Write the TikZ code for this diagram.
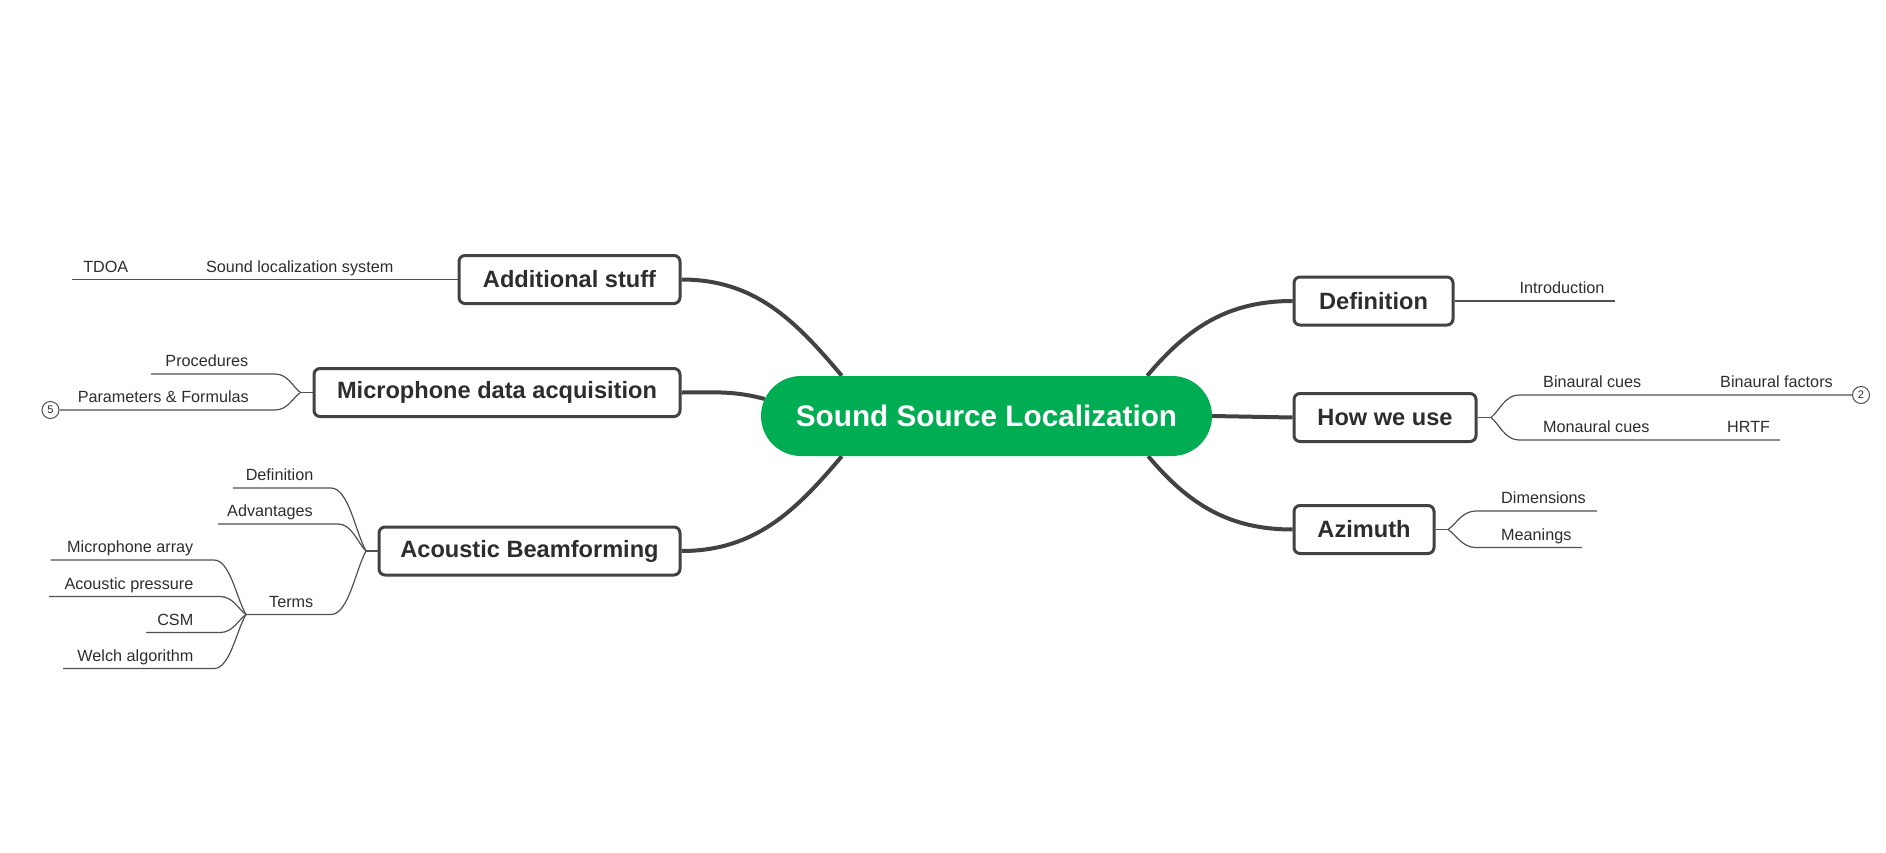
\documentclass[tikz,border=0pt]{standalone}
\usepackage{fontspec}
\setmainfont{Liberation Sans}
\usetikzlibrary{calc,backgrounds}
\definecolor{ssgreen}{RGB}{0,173,83}
\definecolor{edgecol}{RGB}{66,66,66}
\definecolor{twigcol}{RGB}{80,80,80}
\definecolor{txtcol}{RGB}{45,45,45}
\begin{document}
\begin{tikzpicture}[x=1pt,y=1pt,
  hubbox/.style={fill=ssgreen, rounded corners=40pt, minimum width=451pt, minimum height=80pt, inner sep=0pt, text=white, font=\fontsize{29.7}{35}\selectfont\bfseries},
  mainbox/.style={draw=edgecol, line width=3pt, fill=white, rounded corners=6pt, minimum height=48pt, inner sep=0pt, text=txtcol, font=\fontsize{23.6}{28}\selectfont\bfseries},
  sub/.style={inner sep=0pt, text=txtcol, font=\fontsize{16.2}{19}\selectfont},
  trunk/.style={draw=edgecol, line width=4pt},
  twig/.style={draw=twigcol, line width=1.2pt},
  fork/.style={to path={.. controls ($(\tikztostart)!0.3!(\tikztotarget)$) and ($(\tikztotarget)!0.5!(\tikztostart|-\tikztotarget)$) .. (\tikztotarget)}},
  marker/.style={circle, draw=twigcol, line width=1pt, fill=white, minimum size=17pt, inner sep=0pt, text=txtcol, font=\fontsize{11}{13}\selectfont}
]
\useasboundingbox (0,0) rectangle (1886,-853);

% central topic
\node[hubbox] (hub) at (986.5,-416) {Sound Source Localization};

% main topics
\node[mainbox, anchor=east, minimum width=221pt] (add)  at (681.5,-279.5) {Additional stuff};
\node[mainbox, anchor=east, minimum width=366pt] (mic)  at (681.5,-392.5) {Microphone data acquisition};
\node[mainbox, anchor=east, minimum width=301pt] (acou) at (681.5,-551)   {Acoustic Beamforming};
\node[mainbox, anchor=west, minimum width=159pt] (def)  at (1292.5,-301)  {Definition};
\node[mainbox, anchor=west, minimum width=182pt] (how)  at (1292.5,-417.5) {How we use};
\node[mainbox, anchor=west, minimum width=140pt] (azi)  at (1292.5,-529.5) {Azimuth};

\begin{scope}[on background layer]
  \draw[trunk] (add.east) to[out=0,in=130] ($(hub.north west)+(81,0)$);
  \draw[trunk] (mic.east) to[out=0,in=165] ($(hub.west)+(4,17)$);
  \draw[trunk] (acou.east) to[out=0,in=230] ($(hub.south west)+(81,0)$);
  \draw[trunk] ($(hub.north east)+(-65,0)$) to[out=50,in=180] (def.west);
  \draw[trunk] (hub.east) -- (how.west);
  \draw[trunk] ($(hub.south east)+(-64,0)$) to[out=-50,in=180] (azi.west);
\end{scope}

% ---------- Additional stuff
\coordinate (slsL) at (195,-279.5);
\coordinate (tdoaL) at (72,-279.5);
\draw[twig] (add.west) -- (slsL) -- (tdoaL);
\node[sub, anchor=base east] (sls) at (393.5,-272) {Sound localization system};
\node[sub, anchor=base east] (tdoa) at (128.5,-272) {TDOA};

% ---------- Microphone data acquisition
\coordinate (j1) at (300.5,-392.5);
\coordinate (procR) at (275,-374);
\coordinate (procL) at (151,-374);
\coordinate (parR) at (275,-410);
\node[marker] (m5) at (50.5,-410) {5};
\draw[twig] (mic.west) -- (j1);
\draw[twig] (j1) to[fork] (procR) -- (procL);
\draw[twig] (j1) to[fork] (parR) -- (m5);
\node[sub, anchor=base east] (proc) at (248.5,-366.5) {Procedures};
\node[sub, anchor=base east] (par) at (249,-402.5) {Parameters \& Formulas};

% ---------- Acoustic Beamforming
\coordinate (j2) at (366,-551);
\coordinate (defR) at (331,-488);   \coordinate (defL) at (233,-488);
\coordinate (advR) at (338,-524);   \coordinate (advL) at (218,-524);
\coordinate (termR) at (331,-614.5); \coordinate (j3) at (246,-614.5);
\draw[twig] (acou.west) -- (j2);
\draw[twig] (j2) to[fork] (defR) -- (defL);
\draw[twig] (j2) to[fork] (advR) -- (advL);
\draw[twig] (j2) to[fork] (termR) -- (j3);
\node[sub, anchor=base east] (defn) at (313.5,-480.5) {Definition};
\node[sub, anchor=base east] (adv) at (313,-516.5) {Advantages};
\node[sub, anchor=base east] (terms) at (313.5,-607) {Terms};

\coordinate (maR) at (214,-560);    \coordinate (maL) at (50.5,-560);
\coordinate (apR) at (220,-596.5);  \coordinate (apL) at (49,-596.5);
\coordinate (csmR) at (220,-632.5); \coordinate (csmL) at (146,-632.5);
\coordinate (weR) at (214,-668.5);  \coordinate (weL) at (63,-668.5);
\draw[twig] (j3) to[fork] (maR) -- (maL);
\draw[twig] (j3) to[fork] (apR) -- (apL);
\draw[twig] (j3) to[fork] (csmR) -- (csmL);
\draw[twig] (j3) to[fork] (weR) -- (weL);
\node[sub, anchor=base east] (ma) at (193.5,-552.5) {Microphone array};
\node[sub, anchor=base east] (ap) at (193.5,-589) {Acoustic pressure};
\node[sub, anchor=base east] (csm) at (193.5,-625) {CSM};
\node[sub, anchor=base east] (we) at (193.5,-661) {Welch algorithm};

% ---------- Definition
\coordinate (introR) at (1615,-301);
\draw[twig] (def.east) -- (introR);
\node[sub, anchor=base west] (intro) at (1519.5,-293.5) {Introduction};

% ---------- How we use
\coordinate (j4) at (1491,-417.5);
\coordinate (binL) at (1519,-395);
\coordinate (monL) at (1519,-440);
\coordinate (monR) at (1780,-440);
\node[marker] (m2) at (1861,-395) {2};
\draw[twig] (how.east) -- (j4);
\draw[twig] (j4) to[fork] (binL) -- (m2);
\draw[twig] (j4) to[fork] (monL) -- (monR);
\node[sub, anchor=base west] (bin) at (1543,-387.5) {Binaural cues};
\node[sub, anchor=base west] (binf) at (1720,-387.5) {Binaural factors};
\node[sub, anchor=base west] (mon) at (1543,-432.5) {Monaural cues};
\node[sub, anchor=base west] (hrtf) at (1727,-432.5) {HRTF};

% ---------- Azimuth
\coordinate (j5) at (1448,-529.5);
\coordinate (dimL) at (1476,-511);   \coordinate (dimR) at (1597,-511);
\coordinate (meaL) at (1476,-547.5); \coordinate (meaR) at (1582,-547.5);
\draw[twig] (azi.east) -- (j5);
\draw[twig] (j5) to[fork] (dimL) -- (dimR);
\draw[twig] (j5) to[fork] (meaL) -- (meaR);
\node[sub, anchor=base west] (dim) at (1501,-503.5) {Dimensions};
\node[sub, anchor=base west] (mea) at (1501,-540) {Meanings};
\end{tikzpicture}
\end{document}
